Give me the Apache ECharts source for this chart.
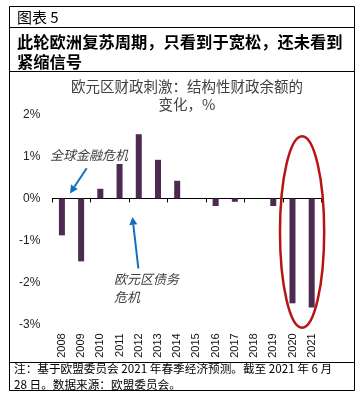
<!DOCTYPE html>
<html><head><meta charset="utf-8">
<script src="https://cdn.jsdelivr.net/npm/echarts@6/dist/echarts.min.js"></script>
<style>html,body{margin:0;padding:0;background:#fff}#c{width:364px;height:402px}</style>
</head><body><div id="c"></div>
<script>
// ---- data ----
const categories = ['2008','2009','2010','2011','2012','2013','2014','2015','2016','2017','2018','2019','2020','2021'];
const values = [-0.88,-1.5,0.23,0.82,1.53,0.92,0.42,0,-0.18,-0.08,0,-0.18,-2.5,-2.6];
const yMin = -3, yMax = 2, yStep = 1;
const headerLabel = '图表 5';
const titleLines = ['此轮欧洲复苏周期，只看到于宽松，还未看到', '紧缩信号'];
const chartTitle = '欧元区财政刺激：结构性财政余额的\n变化，%';
const noteLines = ['注：基于欧盟委员会 2021 年春季经济预测。截至 2021 年 6 月', '28 日。数据来源：欧盟委员会。'];
const annoGFC = '全球金融危机';
const annoDebt = '欧元区债务\n危机';

const CJK = '"Noto Sans CJK SC", sans-serif';
const LAT = '"Liberation Sans", "Noto Sans CJK SC", sans-serif';

const chart = echarts.init(document.getElementById('c'), null, {renderer: 'canvas'});
chart.setOption({
  animation: false,
  backgroundColor: '#fff',
  grid: {left: 52.3, right: 42.7, top: 114.5, bottom: 77.7},
  xAxis: [
    {type: 'category', data: categories, position: 'bottom',
     axisLine: {onZero: true, lineStyle: {color: '#000', width: 1}},
     axisTick: {show: true, length: 4, lineStyle: {color: '#000'}},
     axisLabel: {show: false}, splitLine: {show: false}},
    {type: 'category', data: categories, position: 'bottom',
     axisLine: {show: false, onZero: false}, axisTick: {show: false},
     axisLabel: {rotate: 90, margin: 9, fontSize: 11, color: '#111', fontFamily: LAT},
     splitLine: {show: false}}
  ],
  yAxis: {type: 'value', min: yMin, max: yMax, interval: yStep,
    axisLine: {show: false}, axisTick: {show: false}, splitLine: {show: false},
    axisLabel: {formatter: '{value}%', fontSize: 12, color: '#222', margin: 12, fontFamily: LAT}},
  series: [{type: 'bar', data: values, xAxisIndex: 0, barWidth: 6,
    itemStyle: {color: '#4D2A4F'}}]
});

function px(i, v) {
  const a = chart.convertToPixel({xAxisIndex: 0, yAxisIndex: 0}, [0, v]);
  const b = chart.convertToPixel({xAxisIndex: 0, yAxisIndex: 0}, [1, v]);
  return [a[0] + (b[0] - a[0]) * i, a[1]];
}
function arrow(tail, tip, color) {
  const dx = tip[0] - tail[0], dy = tip[1] - tail[1];
  const L = Math.hypot(dx, dy), ux = dx / L, uy = dy / L;
  const hl = 8, hw = 4;
  const bx = tip[0] - ux * hl, by = tip[1] - uy * hl;
  return [
    {type: 'line', z: 10, shape: {x1: tail[0], y1: tail[1], x2: bx, y2: by},
     style: {stroke: color, lineWidth: 2}},
    {type: 'polygon', z: 10, shape: {points: [tip, [bx - uy * hw, by + ux * hw], [bx + uy * hw, by - ux * hw]]},
     style: {fill: color}}
  ];
}

const g = [];
// frame
const frame = {stroke: '#000', lineWidth: 1};
g.push({type: 'rect', shape: {x: 9.5, y: 6.5, width: 345, height: 384}, style: Object.assign({fill: 'none'}, frame)});
[27.5, 71.5, 362.5].forEach(y => g.push({type: 'line', shape: {x1: 9.5, y1: y, x2: 354.5, y2: y}, style: frame}));
// header texts
g.push({type: 'text', style: {text: headerLabel, x: 17, y: 17, verticalAlign: 'middle', font: '15px ' + CJK, fill: '#000'}});
g.push({type: 'text', style: {text: titleLines[0], x: 17, y: 42, verticalAlign: 'middle', font: 'bold 16.3px ' + CJK, fill: '#000'}});
g.push({type: 'text', style: {text: titleLines[1], x: 17, y: 62, verticalAlign: 'middle', font: 'bold 16.3px ' + CJK, fill: '#000'}});
// chart title
g.push({type: 'text', style: {text: chartTitle, x: 187, y: 95.5, align: 'center', verticalAlign: 'middle', lineHeight: 17.5, font: '14.5px ' + CJK, fill: '#404040'}});
// footnote
g.push({type: 'text', style: {text: noteLines[0], x: 14, y: 369, verticalAlign: 'middle', font: '11.65px ' + CJK, fill: '#000'}});
g.push({type: 'text', style: {text: noteLines[1], x: 14, y: 385, verticalAlign: 'middle', font: '11.65px ' + CJK, fill: '#000'}});
// annotations (anchored in data coordinates)
const blue = '#1170BE';
const t1 = px(-0.62, 1.04);
g.push({type: 'text', z: 10, style: {text: annoGFC, x: t1[0], y: t1[1], verticalAlign: 'middle', font: 'italic 13px ' + CJK, fill: '#404040'}});
g.push(...arrow(px(1.29, 0.72), px(0.42, 0.12), blue));
const t2 = px(2.71, -2.14);
g.push({type: 'text', z: 10, style: {text: annoDebt, x: t2[0], y: t2[1], verticalAlign: 'middle', lineHeight: 17.7, font: 'italic 13px ' + CJK, fill: '#404040'}});
g.push(...arrow(px(3.98, -1.67), px(3.67, -0.44), blue));
// red ellipse around 2020-2021
const ec = px(12.5, -0.80), er = px(13.65, -0.80 + 2.28);
g.push({type: 'ellipse', z: 10, shape: {cx: ec[0], cy: ec[1], rx: er[0] - ec[0], ry: ec[1] - er[1]},
  style: {fill: 'none', stroke: '#B81414', lineWidth: 2.5}});

chart.setOption({graphic: g});
</script>
</body></html>
